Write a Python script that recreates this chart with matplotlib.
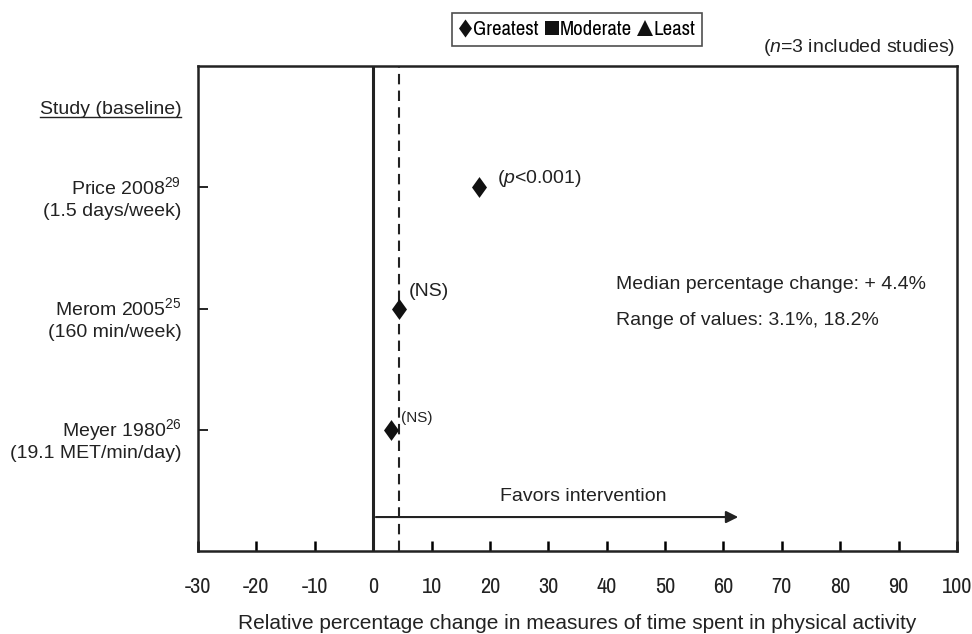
import matplotlib
matplotlib.use("Agg")
import matplotlib.pyplot as plt
from matplotlib.lines import Line2D
from matplotlib import font_manager

studies = ["Price 2008$^{29}$", "Merom 2005$^{25}$", "Meyer 1980$^{26}$"]
baselines = ["(1.5 days/week)", "(160 min/week)", "(19.1 MET/min/day)"]
values = [18.2, 4.4, 3.1]
sig_labels = ["($\\it{p}$<0.001)", "(NS)", "(NS)"]
ypos = [3, 2, 1]
median_val = 4.4
xticks = list(range(-30, 101, 10))
legend_labels = ["Greatest", "Moderate", "Least"]

names = {f.name for f in font_manager.fontManager.ttflist}
def pick(cands):
    for c in cands:
        if c in names:
            return c
    return "DejaVu Sans"
narrow = pick(["Archivo Narrow", "PT Sans Narrow", "Roboto Condensed"])

plt.rcParams['font.family'] = ['Liberation Sans', 'DejaVu Sans']
plt.rcParams['mathtext.fontset'] = 'custom'
plt.rcParams['mathtext.rm'] = 'Liberation Sans'
plt.rcParams['mathtext.it'] = 'Liberation Sans:italic'

INK = '#222222'
FS = 14

fig = plt.figure(figsize=(9.72, 6.34), dpi=100)
ax = fig.add_axes([198/972, 1-551/634, (957-198)/972, (551-66)/634])
ax.set_xlim(-30, 100)
ax.set_ylim(0, 4)
for s in ax.spines.values():
    s.set_linewidth(1.8)
    s.set_color(INK)

ax.set_xticks(xticks)
ax.set_xticklabels([str(t) for t in xticks], fontfamily=narrow, fontsize=16, color=INK)
ax.tick_params(axis='x', direction='in', length=7, width=1.8, pad=19)
ax.set_yticks(ypos)
ax.set_yticklabels([])
ax.tick_params(axis='y', direction='in', length=7, width=1.2)

ax.axvline(0, color=INK, lw=2.2)
ax.axvline(median_val, color=INK, lw=1.5, ls=(0, (5, 3)))

diamond = [(0, 1), (0.72, 0), (0, -1), (-0.72, 0), (0, 1)]
ax.plot(values, ypos, ls='none', marker=diamond, ms=15, color='#111111',
        markeredgewidth=0)

offs = [(18, 0.075), (10, 0.14), (10, 0.10)]
sizes = [FS, FS, 11]
for v, y, lab, (dx, dy), fs in zip(values, ypos, sig_labels, offs, sizes):
    ax.annotate(lab, (v, y), xytext=(dx, dy * 121), textcoords='offset pixels',
                ha='left', va='center', fontsize=fs, color=INK)

for s, b, y in zip(studies, baselines, ypos):
    ax.text(-0.022, y, s, transform=ax.get_yaxis_transform(), ha='right', va='center',
            fontsize=FS, color=INK)
    ax.text(-0.022, y - 0.2, b, transform=ax.get_yaxis_transform(), ha='right', va='center',
            fontsize=FS, color=INK)

t = ax.text(-0.022, 3.64, "Study (baseline)", transform=ax.get_yaxis_transform(),
            ha='right', va='center', fontsize=FS, color=INK)
fig.canvas.draw()
bb = t.get_window_extent()
fig.add_artist(Line2D([bb.x0 / fig.dpi / 9.72, bb.x1 / fig.dpi / 9.72],
                      [(bb.y0 + 1) / fig.dpi / 6.34] * 2, color=INK, lw=1))

ax.annotate("", xy=(63, 0.28), xytext=(0, 0.28),
            arrowprops=dict(arrowstyle='-|>', color=INK, lw=1.5, mutation_scale=18))
ax.text(36, 0.45, "Favors intervention", ha='center', va='center', fontsize=FS, color=INK)

ax.text(41.6, 2.2, "Median percentage change: + 4.4%", ha='left', va='center',
        fontsize=FS, color=INK)
ax.text(41.6, 1.9, "Range of values: 3.1%, 18.2%", ha='left', va='center',
        fontsize=FS, color=INK)

fig.text(955/972, 1-48/634, "($\\it{n}$=3 included studies)", ha='right', va='center',
         fontsize=FS, color=INK)

ax.set_xlabel("Relative percentage change in measures of time spent in physical activity",
              fontsize=15, color=INK, labelpad=12)

# legend
markers = [diamond, 's', '^']
msizes = [13, 9.5, 11]
handles = [Line2D([], [], ls='none', marker=m, ms=ms, color='#111111', markeredgewidth=0, label=l)
           for m, ms, l in zip(markers, msizes, legend_labels)]
leg = fig.legend(handles=handles, loc='center', bbox_to_anchor=(577/972, 1-29.5/634), ncol=3,
                 frameon=True, fancybox=False, edgecolor=INK, handlelength=0.55,
                 handletextpad=0.12, columnspacing=0.35, borderpad=0.35, borderaxespad=0,
                 prop={'family': narrow, 'size': 15})
leg.get_frame().set_linewidth(1.2)

fig.savefig("out.png", dpi=100)
